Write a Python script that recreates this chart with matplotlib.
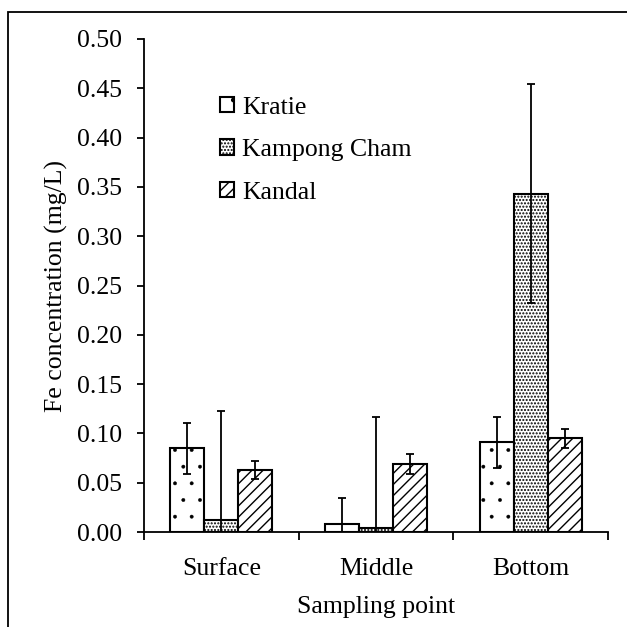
import numpy as np
import matplotlib
matplotlib.use("Agg")
import matplotlib.pyplot as plt
from matplotlib.patches import Rectangle

# data (mg/L)
points = ["Surface", "Middle", "Bottom"]
sites = ["Kratie", "Kampong Cham", "Kandal"]
kratie = [0.085, 0.008, 0.091]
kratie_err = [0.026, 0.026, 0.026]
kampong = [0.012, 0.004, 0.343]
kampong_err = [0.111, 0.113, 0.111]
kandal = [0.063, 0.069, 0.095]
kandal_err = [0.0095, 0.010, 0.0095]
y_ticks = [0.00, 0.05, 0.10, 0.15, 0.20, 0.25, 0.30, 0.35, 0.40, 0.45, 0.50]

plt.rcParams["font.family"] = ["Liberation Serif", "DejaVu Serif"]
plt.rcParams["hatch.linewidth"] = 1.0
plt.rcParams["hatch.color"] = "black"

fs = 18.5

fig = plt.figure(figsize=(6.27, 6.27), dpi=100)
ax = fig.add_axes([0.2297, 0.1515, 0.74, 0.7863])

# outer border (open on the right/bottom, as in the original crop)
fig.patches.append(Rectangle((0.0128, -0.1), 1.2, 1.0 - 12 / 627 + 0.1,
                             transform=fig.transFigure, fill=False,
                             edgecolor="black", linewidth=1.3))

x = np.arange(len(points))
w = 0.22
series = [(kratie, kratie_err, ".", 0.3),
          (kampong, kampong_err, ".....", 1.0),
          (kandal, kandal_err, "///", 1.0)]
for i, (vals, errs, hatch, hlw) in enumerate(series):
    pos = x + (i - 1) * w
    bars = ax.bar(pos, vals, w, color="white", edgecolor="black", linewidth=1.5,
                  hatch=hatch, label=sites[i], zorder=2)
    for b in bars:
        if hasattr(b, "set_hatch_linewidth"):
            b.set_hatch_linewidth(hlw)
    ax.errorbar(pos, vals, yerr=errs, fmt="none", ecolor="black",
                elinewidth=1.3, capsize=2.7, capthick=1.3, zorder=3)

ax.set_xlim(-0.5, 2.5)
ax.set_ylim(0, 0.5)
ax.set_yticks(y_ticks)
ax.set_yticklabels(["%.2f" % v for v in y_ticks])
ax.set_xticks(x)
ax.set_xticklabels(points)
ax.set_xticks([-0.5, 0.5, 1.5, 2.5], minor=True)
ax.tick_params(axis="x", which="major", length=0, pad=18.5, labelsize=fs)
ax.tick_params(axis="x", which="minor", length=6, width=1.3, direction="out")
ax.tick_params(axis="y", length=5, width=1.3, direction="out", pad=11, labelsize=fs)

for s in ["top", "right"]:
    ax.spines[s].set_visible(False)
for s in ["left", "bottom"]:
    ax.spines[s].set_linewidth(1.3)

ax.set_ylabel("Fe concentration (mg/L)", fontsize=fs, labelpad=6)
ax.set_xlabel("Sampling point", fontsize=fs, labelpad=11.5)

ax.legend(loc="upper left", bbox_to_anchor=(0.164, 0.883), frameon=False,
          fontsize=fs, handlelength=0.55, handleheight=0.55, handletextpad=0.3,
          labelspacing=0.8, borderpad=0, borderaxespad=0)

fig.savefig("out.png", dpi=100)
